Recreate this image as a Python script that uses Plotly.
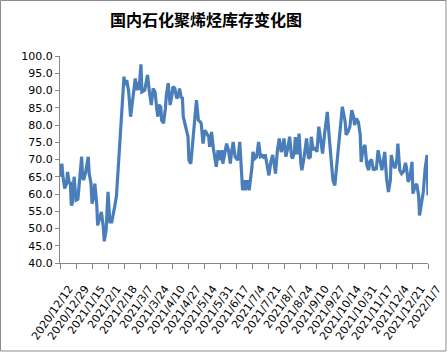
import pandas as pd
import plotly.graph_objects as go

title_text = "国内石化聚烯烃库存变化图"
start_date = "2020-12-12"

# days since 2020/12/12 and inventory values
day_offsets = [0, 2, 3, 5, 7, 8, 10, 11, 12, 13, 15, 17, 19, 23, 24, 25, 27, 30, 31, 33, 34, 36, 37, 39, 40, 42, 44, 46, 47, 49, 51, 52, 53, 55, 57, 58, 60,
               68, 69, 71, 73, 74, 75, 77, 79, 80, 81, 83, 84, 86, 87, 90, 91, 93, 95, 96, 97, 99, 101, 103, 104, 105, 107, 108, 110, 112, 113, 115, 117, 119, 120, 122, 124, 126, 127, 129,
               130, 131, 134, 136, 137, 139, 145, 147, 149, 150, 152, 154, 156, 158, 159, 161, 163, 165, 166, 168, 170, 172, 173, 175, 177, 179, 181, 182, 184, 186, 188, 189, 191,
               193, 194, 196, 197, 199, 201, 204, 205, 207, 209, 211, 213, 215, 217, 218, 221, 222, 224, 226, 228, 229, 231, 233, 235, 236, 238, 240, 242, 244, 246, 247, 249, 250, 252, 254, 256, 257,
               259, 262, 264, 266, 267, 269, 271, 273, 275, 277, 279, 281, 282, 284, 286, 288, 290, 292, 300, 303, 304, 306, 308, 310, 312, 313, 315, 317,
               319, 320, 322, 324, 326, 328, 329, 331, 333, 335, 336, 338, 340, 342, 343, 345, 347, 349, 351, 352, 354, 356, 358, 359, 361, 363, 365, 367, 368, 370, 372, 374, 375, 377, 379, 381, 382, 384, 386, 388, 389, 390, 391]

inventory = [65.0, 68.8, 65.4, 61.6, 63.0, 66.4, 63.0, 63.5, 56.7, 57.2, 65.0, 58.2, 58.5, 70.8, 65.0, 64.0, 66.0, 70.8, 65.9, 63.0, 57.2, 59.2, 63.0, 57.2, 50.9, 53.3, 54.8, 50.4, 46.3, 49.5, 60.6, 56.2, 51.9, 51.9, 54.3, 56.2, 59.5,
             94.0, 91.6, 93.0, 89.6, 86.7, 82.4, 86.7, 90.6, 93.5, 90.1, 92.5, 90.1, 97.6, 89.6, 90.1, 91.6, 94.5, 89.6, 86.3, 85.8, 90.6, 89.6, 84.3, 82.4, 85.8, 85.3, 81.4, 80.5, 84.8, 88.7, 92.1, 85.8, 88.7, 91.1, 90.6, 87.7, 88.7, 90.6, 87.7,
             88.2, 82.4, 79.0, 76.6, 69.8, 68.8, 87.2, 81.4, 80.9, 80.5, 74.6, 78.5, 77.5, 76.6, 73.7, 78.0, 73.2, 70.3, 67.9, 72.7, 69.8, 72.7, 68.8, 71.7, 74.6, 72.7, 68.8, 71.5, 75.1, 70.8, 70.0, 69.8, 75.1,
             65.9, 61.1, 64.0, 61.1, 64.0, 61.1, 67.9, 72.2, 70.3, 70.8, 75.1, 70.8, 71.1, 70.3, 71.5, 67.4, 65.4, 69.3, 71.3, 67.9, 65.9, 72.7, 76.1, 72.2, 72.8, 76.1, 70.8, 73.2, 76.6, 71.0, 70.3, 72.0, 76.5, 71.5, 77.5, 68.5, 66.9,
             70.0, 76.1, 70.3, 70.8, 76.6, 72.7, 73.5, 72.2, 79.5, 74.6, 71.7, 77.1, 79.5, 83.8, 76.6, 69.3, 64.0, 62.5, 85.3, 80.9, 77.1, 78.0, 79.5, 84.3, 82.4, 80.0, 81.9, 80.9,
             77.1, 69.3, 73.2, 74.2, 68.4, 66.9, 69.3, 70.0, 66.9, 67.4, 67.0, 72.7, 70.3, 66.9, 68.5, 72.2, 64.5, 60.6, 64.0, 71.3, 68.4, 67.5, 70.3, 74.6, 66.9, 65.9, 66.5, 69.0, 67.9, 63.5, 65.0, 69.3, 60.1, 62.0, 63.0, 59.6, 53.8, 56.7, 60.6, 67.4, 70.8, 71.3, 59.6]

tick_labels = ["2020/12/12", "2020/12/29", "2021/1/15", "2021/2/1", "2021/2/18", "2021/3/7",
               "2021/3/24", "2021/4/10", "2021/4/27", "2021/5/14", "2021/5/31", "2021/6/17",
               "2021/7/4", "2021/7/21", "2021/8/7", "2021/8/24", "2021/9/10", "2021/9/27",
               "2021/10/14", "2021/10/31", "2021/11/17", "2021/12/4", "2021/12/21", "2022/1/7"]

dates = pd.Timestamp(start_date) + pd.to_timedelta(day_offsets, unit="D")
tick_vals = [pd.to_datetime(t, format="%Y/%m/%d") for t in tick_labels]

W, H = 447, 353
ml, mr, mt, mb = 60, 19, 56, 90
pw, ph = W - ml - mr, H - mt - mb

fig = go.Figure()
fig.add_trace(go.Scatter(x=dates, y=inventory, mode="lines",
                         line=dict(color="#4A7EBB", width=3.2), hoverinfo="x+y"))

axis_col = "#868686"
fig.update_layout(
    width=W, height=H,
    margin=dict(l=ml, r=mr, t=mt, b=mb),
    paper_bgcolor="white", plot_bgcolor="white",
    showlegend=False,
    font=dict(family="DejaVu Sans", size=11, color="#000000"),
    title=dict(text=f"<b>{title_text}</b>", x=206 / W, xanchor="center", xref="container",
               y=1 - 20 / H, yanchor="middle",
               font=dict(family="Noto Sans CJK SC", size=16, color="#000000")),
    xaxis=dict(type="date", range=[tick_vals[0], tick_vals[-1]], automargin=False,
               tickmode="array", tickvals=tick_vals, ticktext=tick_labels,
               tickangle=-55, ticks="outside", ticklen=5, tickcolor=axis_col,
               ticklabelshift=9, ticklabelstandoff=9,
               showline=True, linecolor=axis_col, linewidth=1,
               showgrid=False, zeroline=False,
               tickfont=dict(family="DejaVu Sans", size=11, color="#000000")),
    yaxis=dict(range=[40, 100], dtick=5, tick0=40, tickformat=".1f", automargin=False,
               ticks="outside", ticklen=4, tickcolor=axis_col,
               showline=True, linecolor=axis_col, linewidth=1,
               showgrid=False, zeroline=False,
               tickfont=dict(family="DejaVu Sans", size=11, color="#000000")),
    shapes=[dict(type="rect", xref="paper", yref="paper",
                 x0=(-ml + 0.5) / pw, x1=(pw + mr - 1) / pw,
                 y0=(-mb + 2) / ph, y1=(ph + mt - 0.5) / ph,
                 line=dict(color="#8C8C8C", width=1), fillcolor="rgba(0,0,0,0)", layer="above")],
)

fig.write_html("out.html")
